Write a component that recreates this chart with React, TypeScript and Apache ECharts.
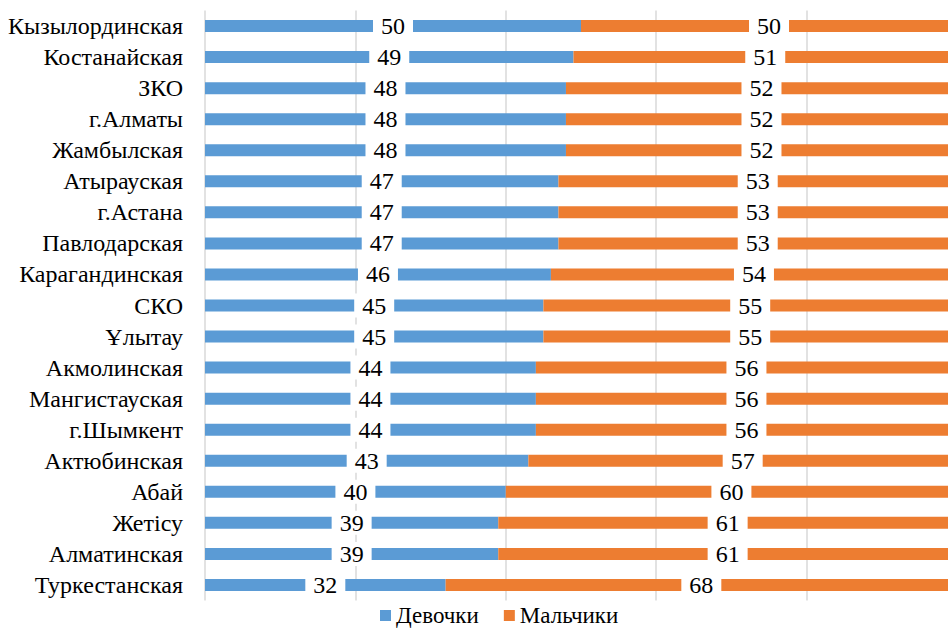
import React, { useEffect, useRef } from "react";
import * as echarts from "echarts";

const categories = [
  "Кызылординская", "Костанайская", "ЗКО", "г.Алматы", "Жамбылская",
  "Атырауская", "г.Астана", "Павлодарская", "Карагандинская", "СКО",
  "Ұлытау", "Акмолинская", "Мангистауская", "г.Шымкент", "Актюбинская",
  "Абай", "Жетісу", "Алматинская", "Туркестанская",
];
const girls = [50, 49, 48, 48, 48, 47, 47, 47, 46, 45, 45, 44, 44, 44, 43, 40, 39, 39, 32];
const boys = [50, 51, 52, 52, 52, 53, 53, 53, 54, 55, 55, 56, 56, 56, 57, 60, 61, 61, 68];
const seriesNames = ["Девочки", "Мальчики"];
const colors = ["#5B9BD5", "#ED7D31"];

const FONT = "Liberation Serif";

export default function App() {
  const ref = useRef<HTMLDivElement>(null);
  useEffect(() => {
    if (!ref.current) return;
    const chart = echarts.init(ref.current, null, { renderer: "svg" });
    const label = {
      show: true,
      position: "inside",
      color: "#000",
      fontFamily: FONT,
      fontSize: 24,
      backgroundColor: "#fff",
      padding: [0, 8, 0, 8],
    };
    chart.setOption({
      animation: false,
      color: colors,
      textStyle: { fontFamily: FONT },
      grid: { left: 205, right: 0, top: 10.5, bottom: 28.5, containLabel: false },
      legend: {
        top: 599,
        left: 375,
        padding: 5,
        itemWidth: 11,
        itemHeight: 11,
        itemGap: 25,
        icon: "rect",
        textStyle: { fontFamily: FONT, fontSize: 23, color: "#000" },
        data: seriesNames,
      },
      xAxis: {
        type: "value",
        min: 0,
        max: 100,
        interval: 20,
        axisLabel: { show: false },
        axisLine: { show: false },
        axisTick: { show: false },
        splitLine: { show: true, lineStyle: { color: "#d9d9d9", width: 1.5 } },
      },
      yAxis: {
        type: "category",
        data: categories,
        inverse: true,
        axisLine: { show: false },
        axisTick: { show: false },
        axisLabel: { fontFamily: FONT, fontSize: 24, color: "#000", margin: 22, interval: 0 },
      },
      series: [
        { name: seriesNames[0], type: "bar", stack: "total", data: girls, barWidth: 12, label },
        { name: seriesNames[1], type: "bar", stack: "total", data: boys, barWidth: 12, label },
      ],
    });
    return () => chart.dispose();
  }, []);
  return (
    <div style={{ position: "absolute", left: 0, top: 0, width: 948, height: 629, overflow: "hidden" }}>
      <div ref={ref} style={{ width: 957, height: 629 }} />
    </div>
  );
}
